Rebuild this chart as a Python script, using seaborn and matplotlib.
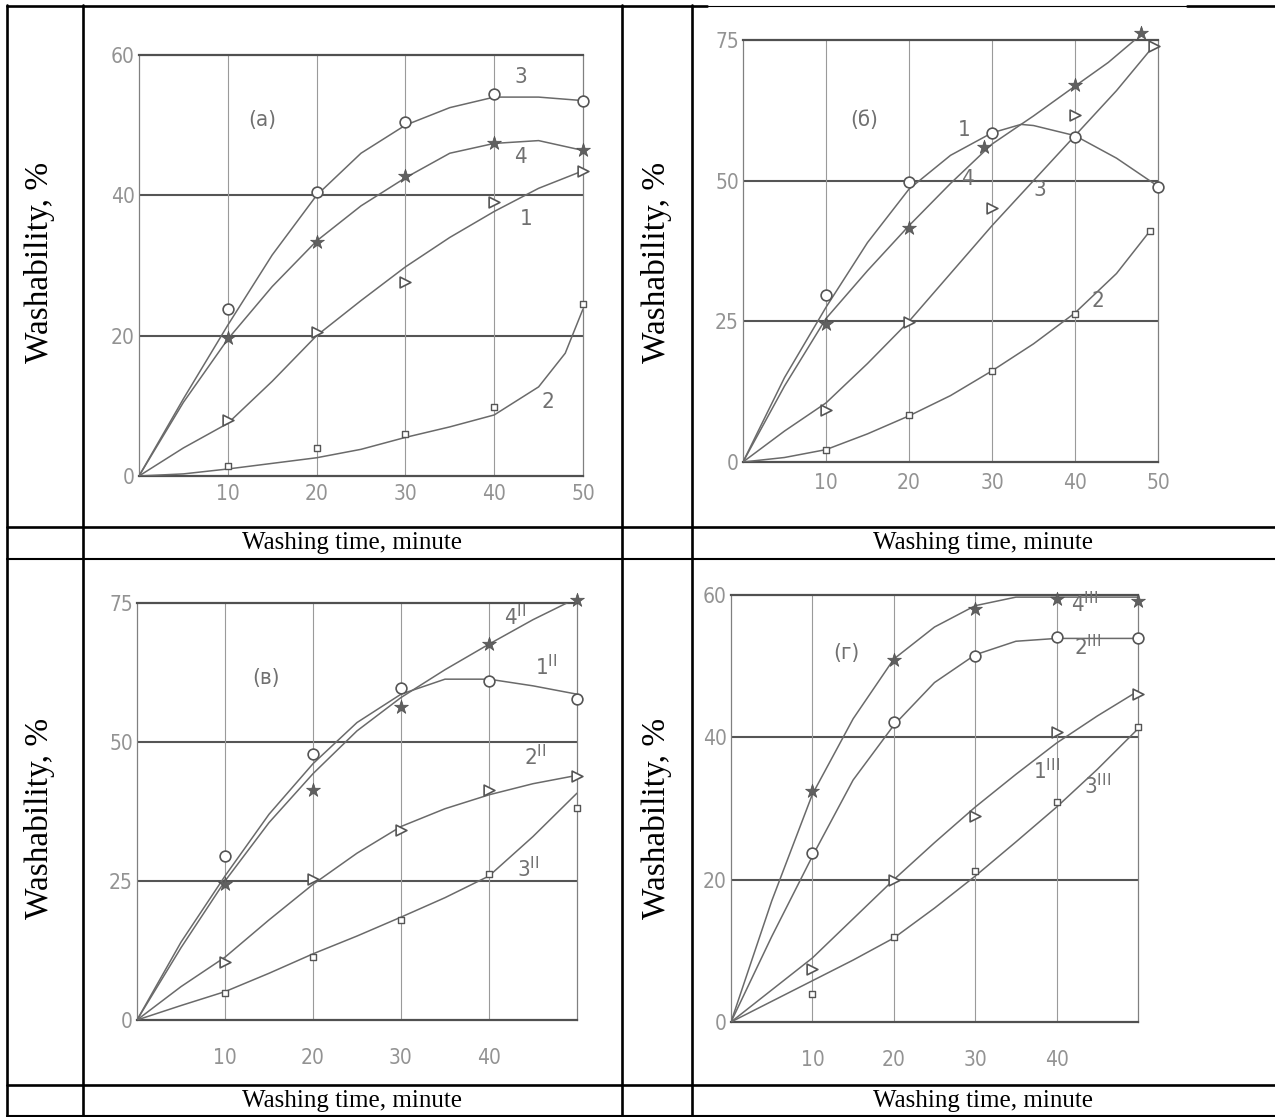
import numpy as np
import pandas as pd
import matplotlib
matplotlib.use("Agg")
import matplotlib.pyplot as plt
import seaborn as sns
from matplotlib.lines import Line2D

sns.set_theme(style="white")
plt.rcParams['font.family'] = ['DejaVu Sans']

# ---------------- data ----------------
x_line = [0, 5, 10, 15, 20, 25, 30, 35, 40, 45, 50]
x_pts = [10, 20, 30, 40, 50]

# panel (a)
a3_line = [0, 11, 21.5, 31.5, 40, 46, 50, 52.5, 54, 54, 53.5]
a4_line = [0, 10.5, 19.5, 27, 33.5, 38.5, 42.5, 46, 47.4, 47.8, 46.4]
a1_line = [0, 4, 7.5, 13.5, 20, 25, 29.8, 34, 37.7, 41, 43.5]
a2_line_x = [0, 5, 10, 15, 20, 25, 30, 35, 40, 45, 48, 50]
a2_line = [0, 0.3, 1, 1.8, 2.6, 3.8, 5.5, 7, 8.7, 12.7, 17.5, 23.8]
a3_pts = [23.8, 40.5, 50.5, 54.5, 53.5]
a4_pts = [19.7, 33.4, 42.8, 47.4, 46.4]
a1_pts = [8, 20.5, 27.6, 39, 43.5]
a2_pts = [1.4, 4, 6, 9.9, 24.5]

# panel (b)
b1_line_x = [0, 5, 10, 15, 20, 25, 30, 33.5, 35, 40, 45, 50]
b1_line = [0, 15, 27.5, 39, 48.5, 54.5, 58.5, 60, 59.8, 58, 54, 49]
b4_line_x = [0, 5, 10, 15, 20, 25, 30, 35, 40, 44, 48]
b4_line = [0, 13.5, 25.5, 34, 42, 49.5, 56.5, 61.5, 66.8, 71, 76]
b3_line_x = [0, 5, 10, 15, 20, 25, 30, 35, 40, 45, 49.5]
b3_line = [0, 5.5, 10.5, 17.5, 25, 33.5, 42, 50, 58, 66, 74]
b2_line_x = [0, 5, 10, 15, 20, 25, 30, 35, 40, 45, 49]
b2_line = [0, 0.8, 2.2, 5, 8.2, 11.8, 16.2, 21, 26.5, 33.5, 41]
b1_pts = [29.6, 49.7, 58.4, 57.8, 48.8]
b4_pts_x = [10, 20, 29, 40, 48]
b4_pts = [24.6, 41.6, 56, 67, 76.3]
b3_pts_x = [10, 20, 30, 40, 49.5]
b3_pts = [9.3, 24.9, 45.2, 61.7, 74]
b2_pts_x = [10, 20, 30, 40, 49]
b2_pts = [2.1, 8.4, 16.2, 26.3, 41]

# panel (c)
c4_line = [0, 13, 25, 35.5, 44.3, 52, 58, 63, 67.6, 72, 75.9]
c1_line = [0, 14, 25.9, 37, 46.1, 53.5, 58.6, 61.3, 61.3, 60.1, 58.6]
c2_line = [0, 6, 11.3, 18, 24.4, 30, 34.8, 38, 40.5, 42.5, 44]
c3_line = [0, 2.6, 5.1, 8.4, 11.9, 15.1, 18.5, 22, 25.9, 33, 40.8]
c4_pts = [24.4, 41.4, 56.3, 67.6, 75.6]
c1_pts = [29.5, 47.9, 59.8, 60.9, 57.7]
c2_pts = [10.4, 25.3, 34.2, 41.4, 43.8]
c3_pts = [4.8, 11.3, 17.9, 26.2, 38.1]

# panel (d)
d4_line = [0, 17, 32, 42.6, 51, 55.5, 58.5, 59.7, 59.7, 59.7, 59.7]
d2_line = [0, 12, 23.3, 34, 41.7, 47.7, 51.6, 53.5, 53.9, 53.9, 53.9]
d1_line = [0, 4.5, 9, 14.5, 20, 25.2, 30.2, 34.8, 39.2, 43, 46.5]
d3_line = [0, 2.9, 5.8, 8.7, 11.8, 16, 20.5, 25.3, 30.2, 35.5, 41.2]
d4_pts = [32.5, 50.9, 58, 59.4, 59.2]
d2_pts = [23.7, 42.2, 51.4, 54.1, 53.9]
d1_pts = [7.4, 20, 29, 40.8, 46.1]
d3_pts = [3.9, 12, 21.2, 30.9, 41.5]

xlabel_text = "Washing time, minute"
ylabel_text = "Washability, %"

# ---------------- figure ----------------
W, H = 1275, 1117
fig = plt.figure(figsize=(W / 100, H / 100), dpi=100)
fig.patch.set_facecolor("white")

LINE_C = "#6a6a6a"
MARK_C = "#555555"
TICK_C = "#939393"
NARROW = ['DejaVu Sans']


def ax_at(l, t, r, b):
    return fig.add_axes([l / W, 1 - b / H, (r - l) / W, (b - t) / H])


def style_axis(ax, ymax, ystep, xticks, xlabels, xpad):
    ax.set_xlim(0, 50)
    ax.set_ylim(0, ymax)
    ax.set_xticks(xticks)
    ax.set_xticklabels(xlabels)
    yt = list(range(0, ymax + 1, ystep))
    ax.set_yticks(yt)
    ax.set_yticklabels([str(v) for v in yt])
    ax.set_facecolor("white")
    ax.grid(False)
    for v in yt[1:-1]:
        ax.axhline(v, color="#555555", lw=1.5, zorder=1)
    for v in xticks:
        if 0 < v < 50:
            ax.axvline(v, color="#9a9a9a", lw=0.8, zorder=1)
    for s in ("top", "bottom"):
        ax.spines[s].set_color("#505050")
        ax.spines[s].set_linewidth(1.6)
    for s in ("left", "right"):
        ax.spines[s].set_color("#808080")
        ax.spines[s].set_linewidth(0.9)
    ax.tick_params(axis="both", length=0, colors=TICK_C, labelsize=15)
    ax.tick_params(axis="x", pad=xpad)
    ax.tick_params(axis="y", pad=3)
    for lab in ax.get_xticklabels() + ax.get_yticklabels():
        lab.set_family(NARROW)
        lab.set_stretch("condensed")
        lab.set_color(TICK_C)
    ax.set_xlabel("")
    ax.set_ylabel("")


def curve(ax, xs, ys):
    sns.lineplot(x=xs, y=ys, ax=ax, color=LINE_C, lw=1.1, estimator=None,
                 sort=False, zorder=3)


def marks(ax, xs, ys, kind):
    if kind == "o":
        sc = sns.scatterplot(x=xs, y=ys, ax=ax, marker="o", s=60, facecolor="white",
                             edgecolor=MARK_C, linewidth=1.2, zorder=4, clip_on=False)
    elif kind == "*":
        sc = sns.scatterplot(x=xs, y=ys, ax=ax, marker="*", s=110, color="#606060",
                             edgecolor="#505050", linewidth=0.5, zorder=4, clip_on=False)
    elif kind == ">":
        sc = sns.scatterplot(x=xs, y=ys, ax=ax, marker=">", s=60, facecolor="white",
                             edgecolor=MARK_C, linewidth=1.2, zorder=4, clip_on=False)
    elif kind == "s":
        sc = sns.scatterplot(x=xs, y=ys, ax=ax, marker="s", s=18, facecolor="white",
                             edgecolor=MARK_C, linewidth=1.0, zorder=4, clip_on=False)


def note(ax, x, y, s, size=16):
    ax.text(x, y, s, color="#707070", fontsize=size, family=NARROW,
            stretch="condensed", ha="center", va="center", zorder=5)


# panel (a)
ax = ax_at(139, 55, 583, 476)
curve(ax, x_line, a3_line)
curve(ax, x_line, a4_line)
curve(ax, x_line, a1_line)
curve(ax, a2_line_x, a2_line)
marks(ax, x_pts, a3_pts, "o")
marks(ax, x_pts, a4_pts, "*")
marks(ax, x_pts, a1_pts, ">")
marks(ax, x_pts, a2_pts, "s")
style_axis(ax, 60, 20, [10, 20, 30, 40, 50], ["10", "20", "30", "40", "50"], 6)
note(ax, 43, 56.8, "3")
note(ax, 43, 45.5, "4")
note(ax, 43.6, 36.6, "1")
note(ax, 46, 10.6, "2")
note(ax, 13.9, 50.7, "(а)")

# panel (b)
ax = ax_at(743, 40, 1158, 462)
curve(ax, b1_line_x, b1_line)
curve(ax, b4_line_x, b4_line)
curve(ax, b3_line_x, b3_line)
curve(ax, b2_line_x, b2_line)
marks(ax, x_pts, b1_pts, "o")
marks(ax, b4_pts_x, b4_pts, "*")
marks(ax, b3_pts_x, b3_pts, ">")
marks(ax, b2_pts_x, b2_pts, "s")
style_axis(ax, 75, 25, [10, 20, 30, 40, 50], ["10", "20", "30", "40", "50"], 8)
note(ax, 26.6, 59, "1")
note(ax, 27, 50.3, "4")
note(ax, 35.8, 48.3, "3")
note(ax, 42.7, 28.7, "2")
note(ax, 14.6, 60.8, "(б)")

# panel (c)
ax = ax_at(137, 603, 577, 1020)
curve(ax, x_line, c4_line)
curve(ax, x_line, c1_line)
curve(ax, x_line, c2_line)
curve(ax, x_line, c3_line)
marks(ax, x_pts, c4_pts, "*")
marks(ax, x_pts, c1_pts, "o")
marks(ax, x_pts, c2_pts, ">")
marks(ax, x_pts, c3_pts, "s")
style_axis(ax, 75, 25, [10, 20, 30, 40], ["10", "20", "30", "40"], 20)
note(ax, 43, 72.6, r"4$^{\rm II}$")
note(ax, 46.5, 63.6, r"1$^{\rm II}$")
note(ax, 45.3, 47.3, r"2$^{\rm II}$")
note(ax, 44.5, 27.3, r"3$^{\rm II}$")
note(ax, 14.7, 61.6, "(в)")

# panel (d)
ax = ax_at(731, 595, 1138, 1022)
curve(ax, x_line, d4_line)
curve(ax, x_line, d2_line)
curve(ax, x_line, d1_line)
curve(ax, x_line, d3_line)
marks(ax, x_pts, d4_pts, "*")
marks(ax, x_pts, d2_pts, "o")
marks(ax, x_pts, d1_pts, ">")
marks(ax, x_pts, d3_pts, "s")
style_axis(ax, 60, 20, [10, 20, 30, 40], ["10", "20", "30", "40"], 20)
note(ax, 43.4, 58.8, r"4$^{\rm III}$")
note(ax, 43.8, 52.8, r"2$^{\rm III}$")
note(ax, 38.8, 35.3, r"1$^{\rm III}$")
note(ax, 45, 33.2, r"3$^{\rm III}$")
note(ax, 14.2, 51.8, "(г)")

# ---------------- table frame ----------------
def hline(y, x0, x1, lw=1.9):
    fig.add_artist(Line2D([x0 / W, x1 / W], [1 - y / H, 1 - y / H],
                          color="black", lw=lw, transform=fig.transFigure))


def vline(x, y0, y1, lw=1.9):
    fig.add_artist(Line2D([x / W, x / W], [1 - y0 / H, 1 - y1 / H],
                          color="black", lw=lw, transform=fig.transFigure))


hline(6, 7, 707)
hline(5.5, 707, 1187, lw=0.8)
hline(6, 1187, 1275)
hline(527, 7, 1275)
hline(559, 7, 1275, lw=1.5)
hline(1085, 7, 1275)
hline(1116, 7, 1275, lw=1.5)
for xv in (7, 83, 622, 692):
    vline(xv, 5, 1117)

for cx in (352, 983):
    for cy in (543, 1101):
        fig.text(cx / W, 1 - cy / H, xlabel_text, ha="center", va="center",
                 fontsize=18, family=["Liberation Serif", "DejaVu Serif"],
                 color="black")
for cx in (40, 657):
    for cy in (262, 818):
        fig.text(cx / W, 1 - cy / H, ylabel_text, ha="center", va="center",
                 rotation=90, fontsize=24,
                 family=["Liberation Serif", "DejaVu Serif"], color="black")

fig.savefig("out.png", dpi=100, facecolor="white")
